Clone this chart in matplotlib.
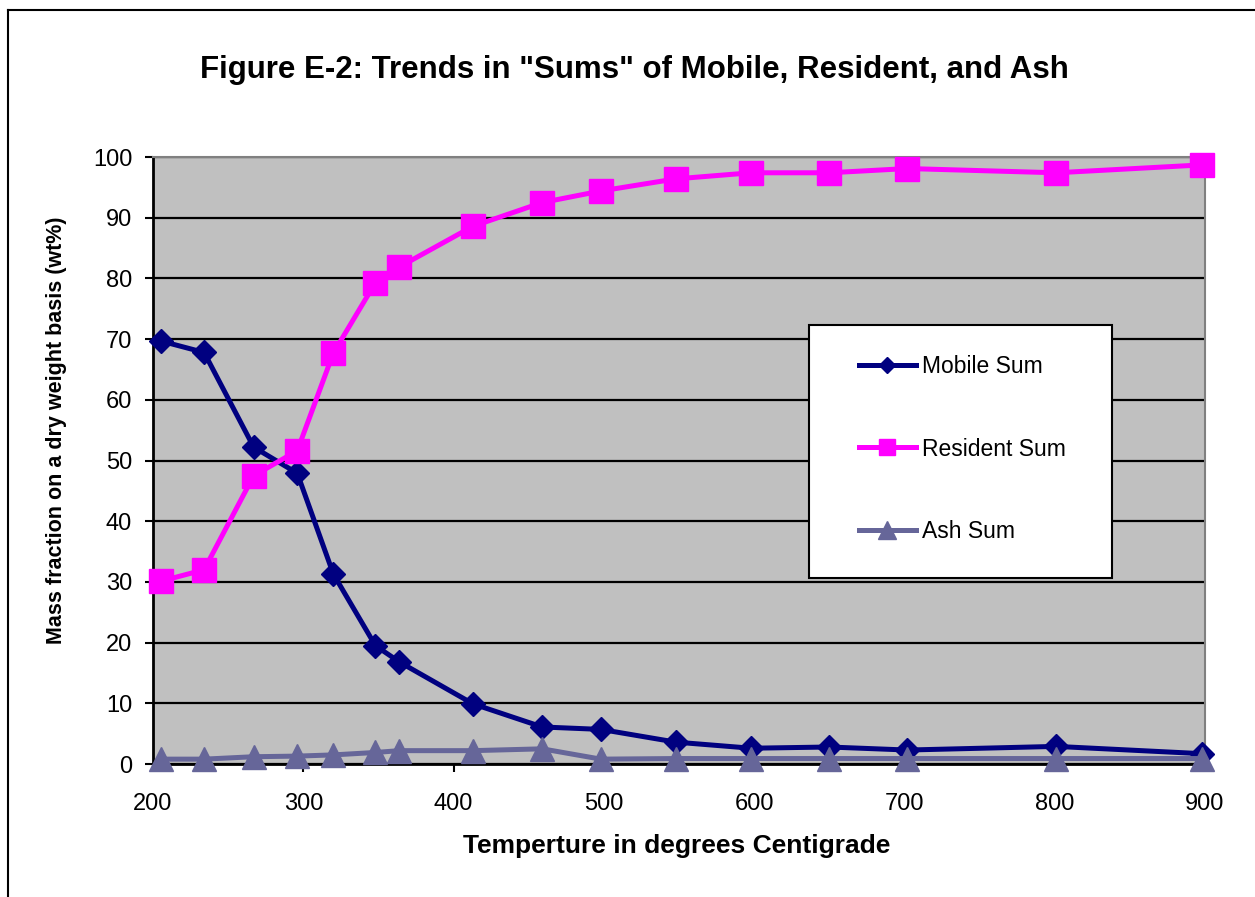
import matplotlib
matplotlib.use("Agg")
import matplotlib.pyplot as plt
from matplotlib.patches import Rectangle
from matplotlib.lines import Line2D

plt.rcParams['font.family'] = ['Liberation Sans', 'DejaVu Sans']

temperature = [205, 234, 267, 296, 320, 348, 364, 413, 459, 498, 548, 598, 650, 702, 801, 898]
mobile_sum = [69.7, 67.8, 52.2, 47.9, 31.3, 19.5, 16.8, 9.9, 6.1, 5.7, 3.6, 2.6, 2.8, 2.3, 2.9, 1.7]
resident_sum = [30.1, 32.0, 47.5, 51.6, 67.7, 79.3, 81.9, 88.6, 92.5, 94.4, 96.4, 97.4, 97.4, 98.1, 97.4, 98.7]
ash_sum = [0.8, 0.8, 1.2, 1.3, 1.5, 1.9, 2.2, 2.2, 2.5, 0.8, 0.9, 0.9, 0.9, 0.9, 0.9, 0.9]

x_ticks = [200, 300, 400, 500, 600, 700, 800, 900]
y_ticks = [0, 10, 20, 30, 40, 50, 60, 70, 80, 90, 100]

title = 'Figure E-2: Trends in "Sums" of Mobile, Resident, and Ash'
x_label = 'Temperture in degrees Centigrade'
y_label = 'Mass fraction on a dry weight basis (wt%)'
series_labels = ['Mobile Sum', 'Resident Sum', 'Ash Sum']

W, H = 1255, 897
fig = plt.figure(figsize=(W / 100, H / 100), dpi=100)
L, R, T, B = 153, 1205, 157, 764
ax = fig.add_axes([L / W, 1 - B / H, (R - L) / W, (B - T) / H])
ax.set_facecolor('#C0C0C0')
ax.set_xlim(200, 900)
ax.set_ylim(0, 100)
ax.set_xticks(x_ticks)
ax.set_yticks(y_ticks)
ax.tick_params(axis='both', direction='out', length=6, width=1.5, labelsize=17, color='black')
ax.tick_params(axis='x', pad=15)
ax.tick_params(axis='y', pad=9)
ax.set_axisbelow(True)
ax.yaxis.grid(True, color='black', linewidth=1.6)
ax.xaxis.grid(False)
for s in ['left', 'bottom']:
    ax.spines[s].set_color('black')
    ax.spines[s].set_linewidth(2.0)
for s in ['top', 'right']:
    ax.spines[s].set_color('#808080')
    ax.spines[s].set_linewidth(1.5)

ax.plot(temperature, mobile_sum, color='#000080', lw=3.6, marker='D', ms=12.5,
        mec='#000080', mfc='#000080', clip_on=False, zorder=4)
ax.plot(temperature, resident_sum, color='#FF00FF', lw=3.6, marker='s', ms=17,
        mec='#FF00FF', mfc='#FF00FF', clip_on=False, zorder=5)
ax.plot(temperature, ash_sum, color='#666699', lw=3.6, marker='^', ms=17.5,
        mec='#666699', mfc='#666699', clip_on=False, zorder=6)

# legend box
lx0, ly0, lx1, ly1 = 809, 325, 1112, 578
fig.patches.append(Rectangle((lx0 / W, 1 - ly1 / H), (lx1 - lx0) / W, (ly1 - ly0) / H,
                             transform=fig.transFigure, facecolor='white', edgecolor='black',
                             linewidth=1.5, zorder=10))
h1 = Line2D([], [], color='#000080', lw=3.6, marker='D', ms=8)
h2 = Line2D([], [], color='#FF00FF', lw=3.6, marker='s', ms=11)
h3 = Line2D([], [], color='#666699', lw=3.6, marker='^', ms=13)
leg = fig.legend([h1, h2, h3], series_labels, loc='center left',
                 bbox_to_anchor=(838 / W, 1 - 449 / H), frameon=False,
                 fontsize=16.5, labelspacing=2.6, handlelength=2.5, handletextpad=0.25)
leg.set_zorder(11)

fig.text(634 / W, 1 - 70 / H, title, ha='center', va='center', fontsize=22.5, fontweight='bold')
fig.text(677 / W, 1 - 846 / H, x_label, ha='center', va='center', fontsize=19, fontweight='bold')
fig.text(57 / W, 1 - 430 / H, y_label, ha='center', va='center', fontsize=15.5, fontweight='bold',
         rotation=90)

# outer chart border
fig.lines.append(Line2D([8 / W, 8 / W], [0, 1 - 10 / H], transform=fig.transFigure, color='black', lw=1.5))
fig.lines.append(Line2D([8 / W, 1], [1 - 10 / H, 1 - 10 / H], transform=fig.transFigure, color='black', lw=1.5))

fig.savefig('out.png', dpi=100, facecolor='white')
